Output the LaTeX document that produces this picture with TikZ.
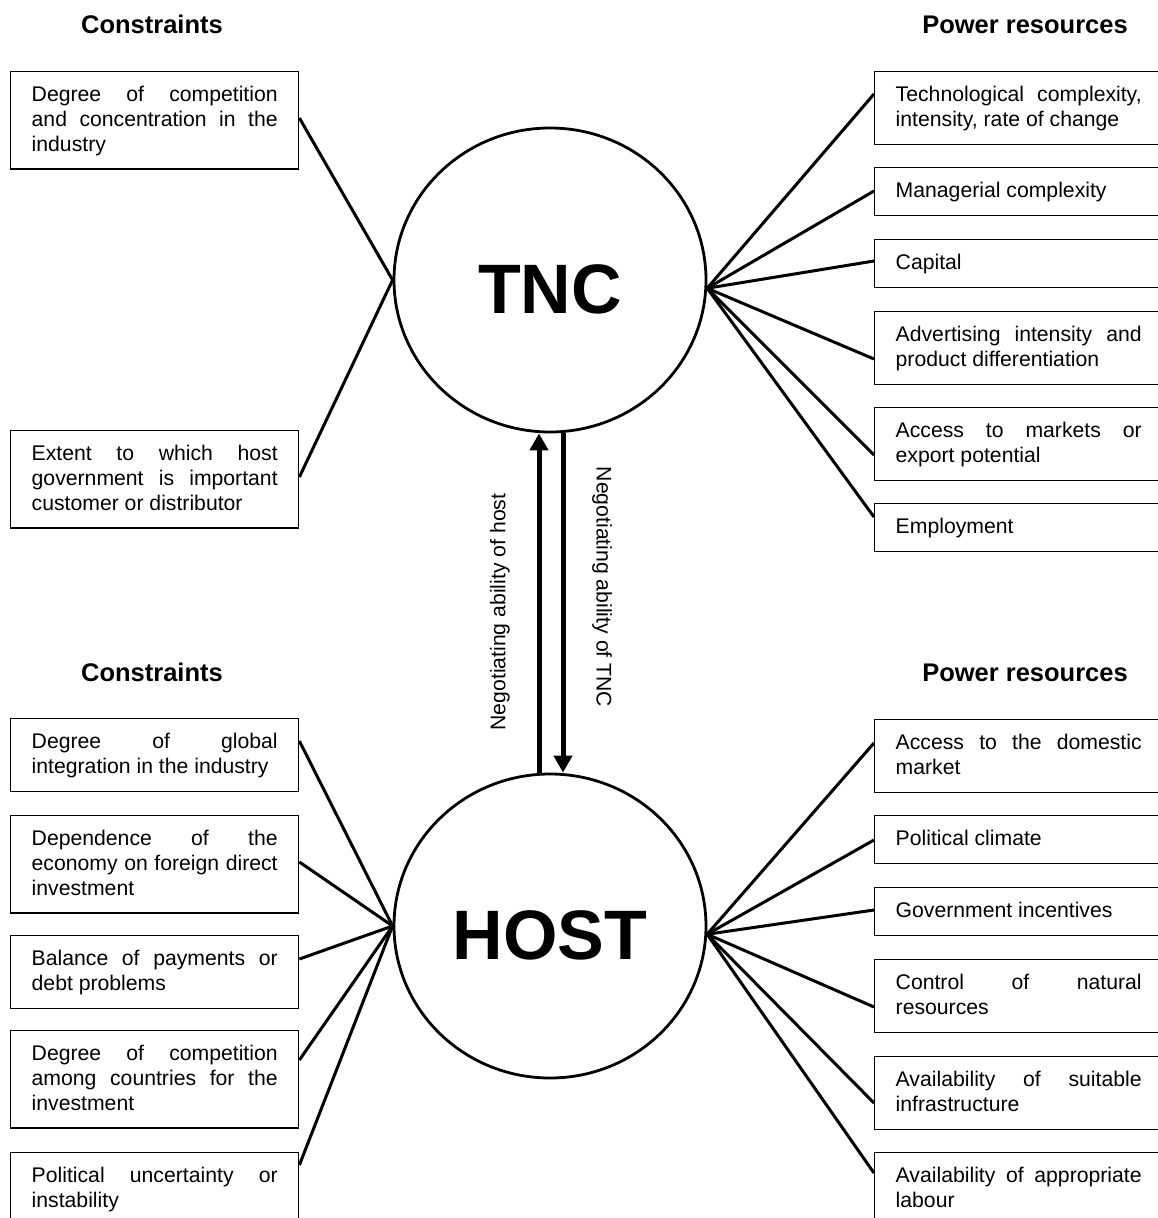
\documentclass[tikz,border=0pt]{standalone}
\usepackage{fontspec}
\setmainfont{Liberation Sans}
\usetikzlibrary{arrows.meta,shapes.geometric}
\begin{document}
\begin{tikzpicture}[x=1pt,y=-1pt,
  txtbox/.style={draw, line width=1.4pt, anchor=north west, text width=246pt, align=justify,
    inner xsep=21pt, inner ysep=14pt, text height=16pt,
    font=\fontsize{21.2}{24.7}\selectfont,
    execute at begin node={\tolerance=10000\relax\hyphenpenalty=10000\relax\emergencystretch=20pt\relax}},
  one/.style={txtbox, text depth=4pt},
  two/.style={txtbox, text depth=28.7pt},
  three/.style={txtbox, text depth=53.4pt},
  hdr/.style={anchor=base, font=\fontsize{25.5}{30}\selectfont\bfseries},
  actor/.style={ellipse, draw, line width=2.8pt, minimum width=312pt, minimum height=304pt,
    inner sep=0pt, text height=66pt, text depth=0pt, font=\fontsize{70}{80}\selectfont\bfseries},
  link/.style={line width=3pt},
  negarrow/.style={line width=5pt, -{Triangle[width=18pt,length=17pt]}},
  neglabel/.style={font=\fontsize{21.2}{24.7}\selectfont}
]
\useasboundingbox (0,0) rectangle (1157,1218);

% headers
\node[hdr] (h1) at (152,33) {Constraints};
\node[hdr] (h2) at (1025,33) {Power resources};
\node[hdr] (h3) at (152,681) {Constraints};
\node[hdr] (h4) at (1025,681) {Power resources};

% actors
\node[actor] (tnc) at (550,280) {TNC};
\node[actor] (host) at (550,926) {HOST};

% TNC constraints
\node[three] (lt1) at (10,71) {Degree of competition\linebreak and concentration in the\linebreak industry};
\node[three] (lt2) at (10,430) {Extent to which host\linebreak government is important\linebreak customer or distributor};

% TNC power resources
\node[two] (rt1) at (874,71) {Technological complexity,\linebreak intensity, rate of change};
\node[one] (rt2) at (874,167) {Managerial complexity};
\node[one] (rt3) at (874,239) {Capital};
\node[two] (rt4) at (874,311) {Advertising intensity and\linebreak product differentiation};
\node[two] (rt5) at (874,407) {Access to markets or\linebreak export potential};
\node[one] (rt6) at (874,503) {Employment};

% HOST constraints
\node[two] (lh1) at (10,718) {Degree of global\linebreak integration in the industry};
\node[three] (lh2) at (10,815) {Dependence of the\linebreak economy on foreign direct\linebreak investment};
\node[two] (lh3) at (10,935) {Balance of payments or\linebreak debt problems};
\node[three] (lh4) at (10,1030) {Degree of competition\linebreak among countries for the\linebreak investment};
\node[two] (lh5) at (10,1152) {Political uncertainty or\linebreak instability};

% HOST power resources
\node[two] (rh1) at (874,719) {Access to the domestic\linebreak market};
\node[one] (rh2) at (874,815) {Political climate};
\node[one] (rh3) at (874,887) {Government incentives};
\node[two] (rh4) at (874,959) {Control of natural\linebreak resources};
\node[two] (rh5) at (874,1056) {Availability of suitable\linebreak infrastructure};
\node[two] (rh6) at (874,1152) {Availability of appropriate\linebreak labour};

% connectors TNC
\draw[link] (tnc.west) -- (lt1.east |- 0,118);
\draw[link] (tnc.west) -- (lt2.east |- 0,477);
\draw[link] (tnc.-3) -- (rt1.west |- 0,94);
\draw[link] (tnc.-3) -- (rt2.west |- 0,191);
\draw[link] (tnc.-3) -- (rt3.west |- 0,261);
\draw[link] (tnc.-3) -- (rt4.west |- 0,359);
\draw[link] (tnc.-3) -- (rt5.west |- 0,455);
\draw[link] (tnc.-3) -- (rt6.west |- 0,517);

% connectors HOST
\draw[link] (host.west) -- (lh1.east |- 0,741);
\draw[link] (host.west) -- (lh2.east |- 0,862);
\draw[link] (host.west) -- (lh3.east |- 0,959);
\draw[link] (host.west) -- (lh4.east |- 0,1060);
\draw[link] (host.west) -- (lh5.east |- 0,1165);
\draw[link] (host.-3) -- (rh1.west |- 0,743);
\draw[link] (host.-3) -- (rh2.west |- 0,840);
\draw[link] (host.-3) -- (rh3.west |- 0,910);
\draw[link] (host.-3) -- (rh4.west |- 0,1007);
\draw[link] (host.-3) -- (rh5.west |- 0,1103);
\draw[link] (host.-3) -- (rh6.west |- 0,1173);

% negotiating arrows
\draw[negarrow] ([xshift=-11pt]host.north) -- ([xshift=-11pt]tnc.south);
\draw[negarrow] ([xshift=13pt]tnc.south) -- ([xshift=13pt]host.north);
\node[neglabel, rotate=90] (nh) at (500,612) {Negotiating ability of host};
\node[neglabel, rotate=-90] (nt) at (602,587) {Negotiating ability of TNC};
\end{tikzpicture}
\end{document}
